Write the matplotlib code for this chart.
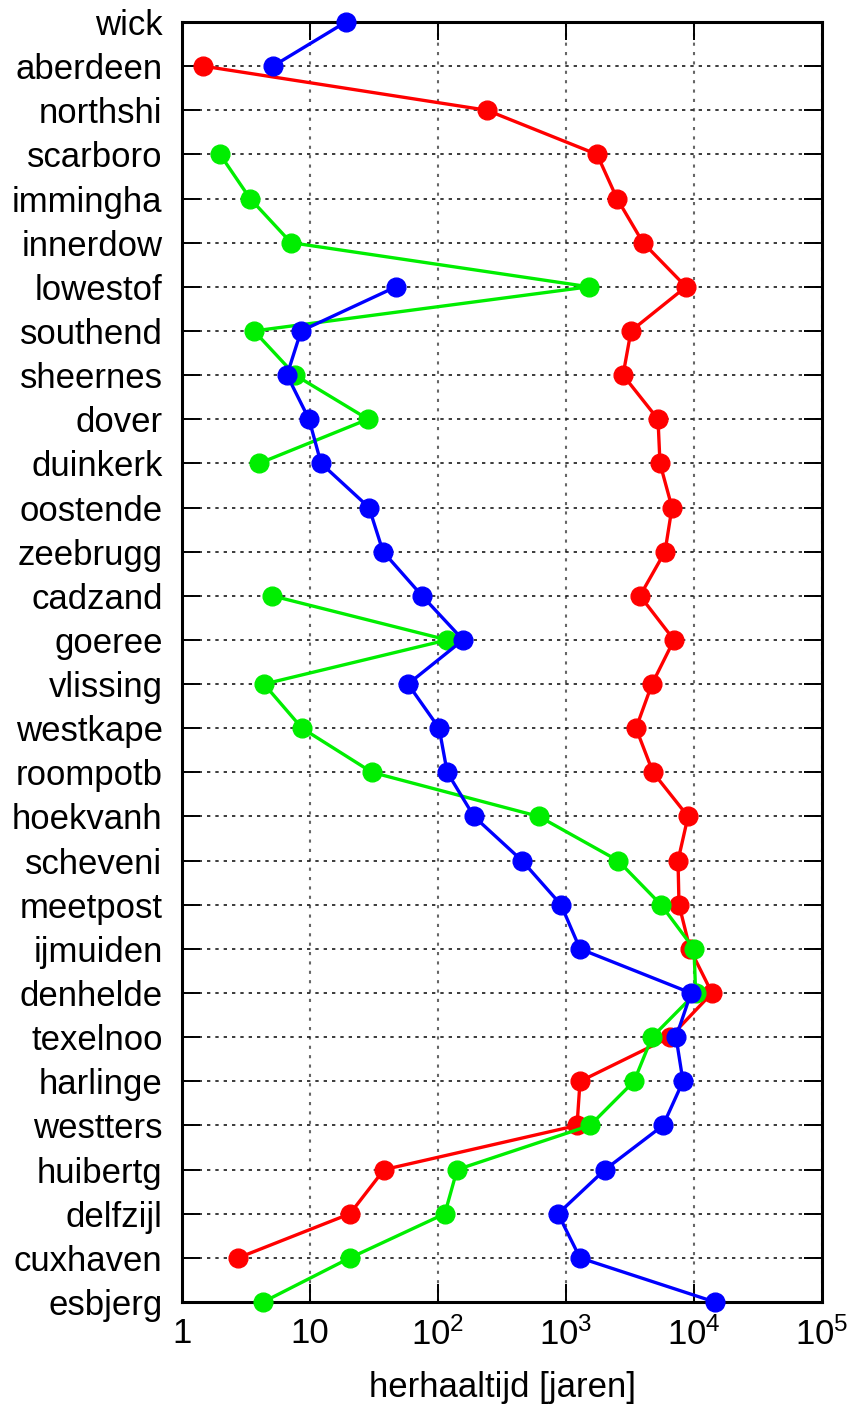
import numpy as np
import matplotlib.pyplot as plt

plt.rcParams['font.family'] = ['Liberation Sans', 'DejaVu Sans']
plt.rcParams['mathtext.fontset'] = 'custom'
plt.rcParams['mathtext.rm'] = 'Liberation Sans'

stations = ["wick", "aberdeen", "northshi", "scarboro", "immingha", "innerdow",
            "lowestof", "southend", "sheernes", "dover", "duinkerk", "oostende",
            "zeebrugg", "cadzand", "goeree", "vlissing", "westkape", "roompotb",
            "hoekvanh", "scheveni", "meetpost", "ijmuiden", "denhelde", "texelnoo",
            "harlinge", "westters", "huibertg", "delfzijl", "cuxhaven", "esbjerg"]

nan = np.nan
# herhaaltijden [jaren] per station
rood = [nan, 1.46, 241, 1747, 2502, 3996, 8660, 3220, 2789, 5233, 5424, 6731,
        5935, 3785, 6978, 4697, 3523, 4782, 8979, 7499, 7636, 9306, 13824, 6494,
        1287, 1219, 37.9, 20.5, 2.74, nan]
groen = [nan, nan, nan, 1.98, 3.40, 7.10, 1512, 3.65, 7.64, 28.4, 4.00, nan,
         nan, 5.05, 118, 4.37, 8.66, 30.5, 615, 2549, 5523, 10000, 10300, 4697,
         3399, 1540, 141, 113, 20.5, 4.30]
blauw = [19.1, 5.14, nan, nan, nan, nan, 47.0, 8.51, 6.61, 9.82, 12.2, 28.9,
         37.2, 75.0, 157, 58.3, 102, 118, 191, 453, 914, 1287, 9476, 7236,
         8206, 5726, 2017, 866, 1287, 14590]

xticks = [1, 10, 100, 1e3, 1e4, 1e5]
xticklabels = ["1", "10", r"$\mathregular{10^{2}}$", r"$\mathregular{10^{3}}$",
               r"$\mathregular{10^{4}}$", r"$\mathregular{10^{5}}$"]

fig = plt.figure(figsize=(8.49, 14.07), dpi=100)
ax = fig.add_axes([0.2144, 0.0746, 0.9682 - 0.2144, 0.9844 - 0.0746])

y = np.arange(len(stations))
for vals, kleur in [(rood, "#ff0000"), (groen, "#00ee00"), (blauw, "#0000ff")]:
    ax.plot(vals, y, "-o", color=kleur, lw=2.4, ms=13.5, clip_on=False, zorder=3)

ax.set_xscale("log")
ax.set_xlim(1, 1e5)
ax.set_ylim(len(stations) - 1, 0)
ax.set_xticks(xticks)
ax.set_xticklabels(xticklabels)
ax.xaxis.set_minor_locator(plt.NullLocator())
ax.set_yticks(y)
ax.set_yticklabels(stations)

ax.tick_params(axis="both", direction="in", length=13, width=1.4, labelsize=25,
               top=True, right=True)
ax.tick_params(axis="x", pad=11)
ax.tick_params(axis="y", pad=14)
for s in ax.spines.values():
    s.set_linewidth(2.2)

ax.xaxis.grid(True, color="0.4", ls=(0, (1.5, 3)), lw=1.5)
ax.yaxis.grid(True, color="0.1", ls=(0, (2, 3)), lw=1.2)
ax.set_axisbelow(True)

ax.set_xlabel("herhaaltijd [jaren]", fontsize=25, labelpad=14)

fig.savefig("out.png", dpi=100)
